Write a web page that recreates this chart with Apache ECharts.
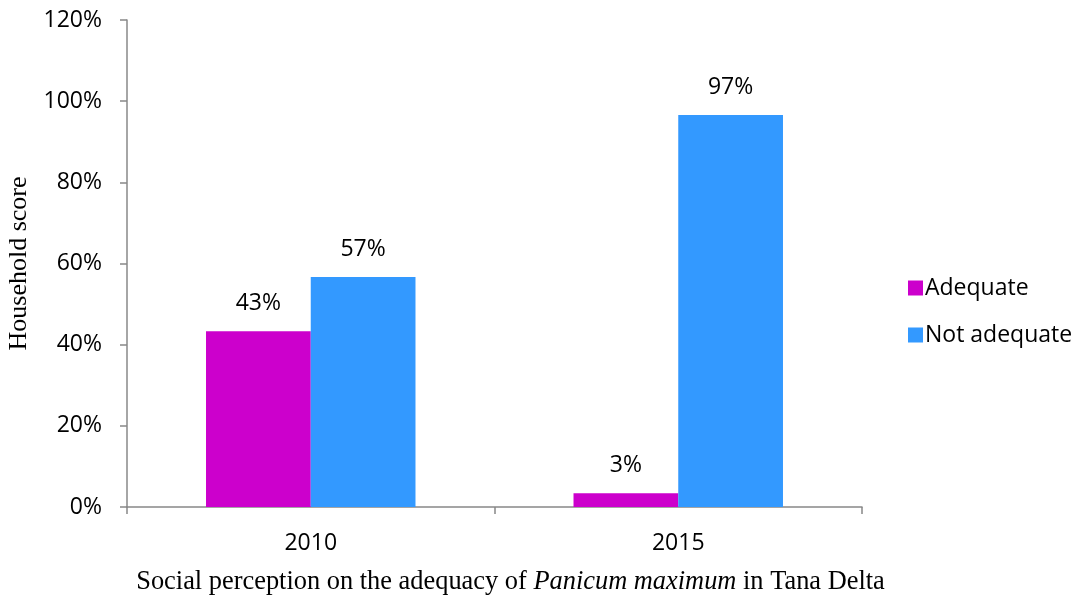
<!DOCTYPE html>
<html><head><meta charset="utf-8">
<script src="https://cdn.jsdelivr.net/npm/echarts@6/dist/echarts.min.js"></script>
<style>html,body{margin:0;padding:0;background:#fff}#c{width:1077px;height:596px}</style>
</head><body><div id="c"></div>
<script>
const categories = ['2010', '2015'];
const adequate = [43.3, 3.4];
const notAdequate = [56.7, 96.6];
const seriesNames = ['Adequate', 'Not adequate'];
const yTicks = [0, 20, 40, 60, 80, 100, 120];

const font = '"Open Sans", Lato, sans-serif';
const fs = 23;
const serif = '"Liberation Serif", "DejaVu Serif", serif';
const chart = echarts.init(document.getElementById('c'));
const lbl = {
  show: true, position: 'top', distance: 16,
  fontFamily: font, fontSize: fs, color: '#000',
  formatter: p => Math.round(p.value) + '%'
};
chart.setOption({
  animation: false,
  grid: { left: 127, right: 215, top: 20, bottom: 89, containLabel: false, outerBoundsMode: 'none' },
  legend: {
    orient: 'vertical', left: 903, top: 271,
    itemWidth: 15, itemHeight: 15, itemGap: 23,
    icon: 'rect',
    textStyle: { fontFamily: font, fontSize: fs, color: '#000', lineHeight: 24, padding: [0,0,0,-3] },
    data: seriesNames
  },
  xAxis: {
    type: 'category', data: categories,
    axisLine: { lineStyle: { color: '#888', width: 1.5 } },
    axisTick: { show: true, length: 7, lineStyle: { color: '#888', width: 1.5 } },
    axisLabel: { fontFamily: font, fontSize: fs, color: '#000', margin: 25 },
    name: '{a|Social perception on the adequacy of }{b|Panicum maximum}{a| in Tana Delta}',
    nameLocation: 'middle', nameGap: 62,
    nameTextStyle: {
      padding: [0, 0, 0, 32],
      rich: {
        a: { fontFamily: serif, fontSize: 26.4, color: '#000' },
        b: { fontFamily: serif, fontSize: 26.4, color: '#000', fontStyle: 'italic' }
      }
    }
  },
  yAxis: {
    type: 'value', min: 0, max: 120, interval: 20,
    axisLine: { show: true, lineStyle: { color: '#888', width: 1.5 } },
    axisTick: { show: true, length: 7, lineStyle: { color: '#888', width: 1.5 } },
    splitLine: { show: false },
    axisLabel: { fontFamily: font, fontSize: fs, color: '#000', margin: 25,
      formatter: v => yTicks.includes(v) ? v + '%' : '' },
    name: 'Household score', nameLocation: 'middle', nameGap: 95,
    nameTextStyle: { fontFamily: serif, fontSize: 26, color: '#000' }
  },
  series: [
    { name: seriesNames[0], type: 'bar', data: adequate, barGap: '0%', barCategoryGap: '43%',
      itemStyle: { color: '#CC00CC' }, label: lbl },
    { name: seriesNames[1], type: 'bar', data: notAdequate, barGap: '0%', barCategoryGap: '43%',
      itemStyle: { color: '#3399FF' }, label: lbl }
  ]
});
</script></body></html>
